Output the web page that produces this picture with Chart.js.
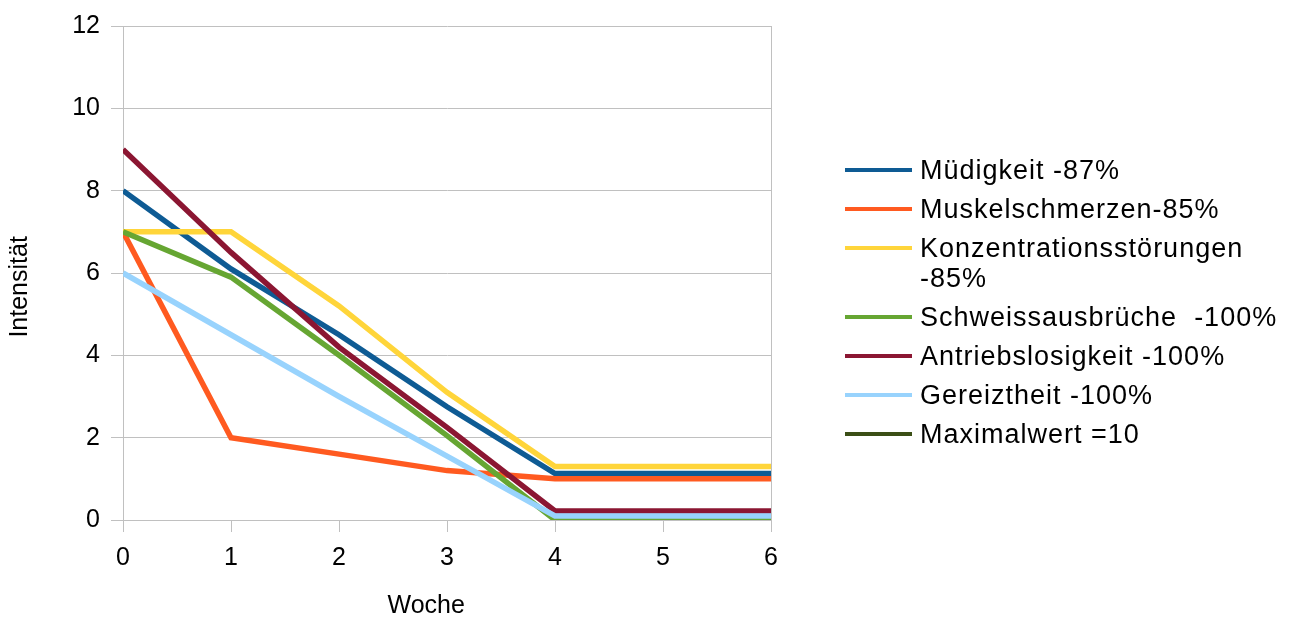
<!DOCTYPE html>
<html>
<head>
<meta charset="utf-8">
<script src="https://cdn.jsdelivr.net/npm/chart.js@4/dist/chart.umd.min.js"></script>
<style>
html, body { margin: 0; padding: 0; background: #fff; }
#wrap { position: relative; width: 1289px; height: 617px; overflow: hidden; }
#c { position: absolute; left: 0; top: 0; }
#legend { position: absolute; left: 0; top: 0; width: 1289px; height: 617px; pointer-events: none;
  font-family: "Liberation Sans", Arial, sans-serif; font-size: 27px; color: #000; }
.row { position: absolute; left: 845px; width: 440px; }
.swatch { position: absolute; left: 0; top: 13px; width: 67px; height: 4px; }
.txt { position: absolute; left: 75px; top: 0; line-height: 30px; white-space: pre; letter-spacing: 1px; }
</style>
</head>
<body>
<div id="wrap">
  <canvas id="c" width="1289" height="617"></canvas>
  <div id="legend"></div>
</div>
<script>
// ---- data ----
const weeks = [0, 1, 2, 3, 4, 5, 6];
const yTickValues = [0, 2, 4, 6, 8, 10, 12];
const seriesNames = [
  "Müdigkeit -87%",
  "Muskelschmerzen-85%",
  "Konzentrationsstörungen\n-85%",
  "Schweissausbrüche  -100%",
  "Antriebslosigkeit -100%",
  "Gereiztheit -100%",
  "Maximalwert =10"
];
const muedigkeit        = [8, 6.1, 4.5, 2.75, 1.13, 1.13, 1.13];
const muskelschmerzen   = [7, 2, 1.6, 1.2, 1.0, 1.0, 1.0];
const konzentration     = [7, 7, 5.2, 3.1, 1.3, 1.3, 1.3];
const schweiss          = [7, 5.9, 4.0, 2.05, 0, 0, 0];
const antrieb           = [9, 6.5, 4.2, 2.25, 0.22, 0.22, 0.22];
const gereiztheit       = [6, 4.5, 3.0, 1.55, 0.1, 0.1, 0.1];
const maximalwert       = [null, null, null, null, null, null, null];
const xTitle = "Woche";
const yTitle = "Intensität";

// ---- styles ----
const colors = ["#0e5b94", "#ff5a20", "#ffd53a", "#66a632", "#8b1632", "#98d3fd", "#3b4f16"];
const gridGray = "#c0c0c0";
const fontFamily = "'Liberation Sans', Arial, sans-serif";

const series = [muedigkeit, muskelschmerzen, konzentration, schweiss, antrieb, gereiztheit, maximalwert];

const datasets = series.map((vals, i) => ({
  label: seriesNames[i].replace("\n", " "),
  data: vals.map((v, j) => ({ x: weeks[j], y: v })),
  borderColor: colors[i],
  backgroundColor: colors[i],
  borderWidth: 5.5,
  pointRadius: 0,
  pointHoverRadius: 0,
  fill: false,
  tension: 0,
  borderJoinStyle: "miter",
  order: series.length - i
}));

new Chart(document.getElementById("c"), {
  type: "line",
  data: { datasets },
  options: {
    responsive: false,
    animation: false,
    layout: { padding: { left: 0, right: 518, top: 25, bottom: 0 } },
    plugins: { legend: { display: false }, tooltip: { enabled: false } },
    scales: {
      x: {
        type: "linear",
        min: weeks[0],
        max: weeks[weeks.length - 1],
        afterBuildTicks: (s) => { s.ticks = weeks.map(v => ({ value: v })); },
        afterFit: (s) => { s.height = 97; },
        ticks: { color: "#000", font: { family: fontFamily, size: 25 }, padding: 11, maxRotation: 0 },
        grid: {
          color: (ctx) => (ctx.tick && (ctx.tick.value === weeks[0] || ctx.tick.value === weeks[weeks.length - 1])) ? gridGray : "rgba(0,0,0,0)",
          tickColor: gridGray,
          tickLength: 12,
          lineWidth: 1
        },
        border: { display: true, color: gridGray },
        title: {
          display: true,
          text: xTitle + "      ",
          color: "#000",
          font: { family: fontFamily, size: 25, lineHeight: 1 },
          padding: { top: 0, bottom: -2 }
        }
      },
      y: {
        type: "linear",
        min: yTickValues[0],
        max: yTickValues[yTickValues.length - 1],
        afterBuildTicks: (s) => { s.ticks = yTickValues.map(v => ({ value: v })); },
        afterFit: (s) => { s.width = 123; },
        ticks: { color: "#000", font: { family: fontFamily, size: 25 }, padding: 11 },
        grid: { color: gridGray, tickColor: gridGray, tickLength: 12, lineWidth: 1 },
        border: { display: true, color: gridGray },
        title: {
          display: true,
          text: yTitle + "    ",
          color: "#000",
          font: { family: fontFamily, size: 25, lineHeight: 1.2 },
          padding: { top: 5, bottom: 0 }
        }
      }
    }
  }
});

// ---- HTML legend built from the series names/colors ----
const legendEl = document.getElementById("legend");
let rowTop = 155;
seriesNames.forEach((name, i) => {
  const row = document.createElement("div");
  row.className = "row";
  row.style.top = rowTop + "px";
  const sw = document.createElement("div");
  sw.className = "swatch";
  sw.style.background = colors[i];
  const tx = document.createElement("div");
  tx.className = "txt";
  tx.textContent = name;
  row.appendChild(sw);
  row.appendChild(tx);
  legendEl.appendChild(row);
  const lines = name.split("\n").length;
  rowTop += lines * 30 + 9;
});
</script>
</body>
</html>
